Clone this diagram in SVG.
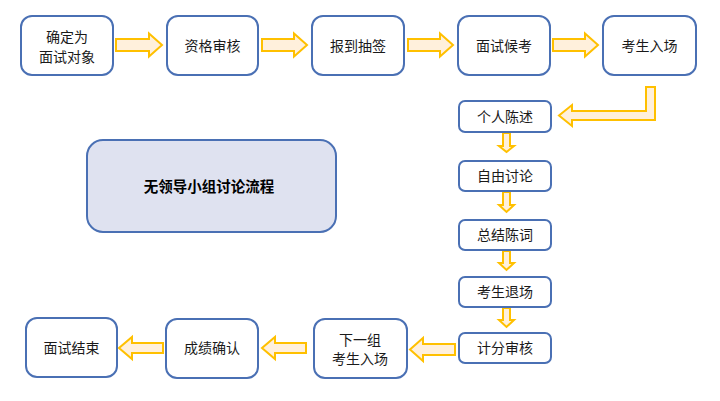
<svg xmlns="http://www.w3.org/2000/svg" width="720" height="401" viewBox="0 0 720 401">
<style>
.box{fill:#ffffff;stroke:#4a70b4;stroke-width:2}
.title{fill:#dfe2f0;stroke:#4a70b4;stroke-width:2}
.arr{fill:#fff0dc;stroke:#ffc000;stroke-width:2;stroke-linejoin:miter}
text{font-family:"Noto Sans CJK SC","Noto Sans",sans-serif;font-size:14px;fill:#1a1a1a;text-anchor:middle}
.b{font-weight:bold;font-size:14.5px;fill:#000}
</style>
<rect width="720" height="401" fill="#ffffff"/>
<g id="connectors">
<path class="arr" d="M116,39 H149 V33.5 L162,45 L149,56.5 V51 H116 Z"/>
<path class="arr" d="M262,39 H294 V33.5 L307,45 L294,56.5 V51 H262 Z"/>
<path class="arr" d="M408,39 H440 V33.5 L453,45 L440,56.5 V51 H408 Z"/>
<path class="arr" d="M553,39 H585 V33.5 L598,45 L585,56.5 V51 H553 Z"/>
<path class="arr" d="M646,87 H655 V120 H572 V126 L559,115.5 L572,105 V111 H646 Z"/>
<path class="arr" d="M503,133 V146 H499 L506.5,152 L514,146 H510 V133 Z"/>
<path class="arr" d="M503,192 V205 H499 L506.5,212 L514,205 H510 V192 Z"/>
<path class="arr" d="M503,251 V263 H499 L506.5,270 L514,263 H510 V251 Z"/>
<path class="arr" d="M503,308 V320 H499 L506.5,327 L514,320 H510 V308 Z"/>
<path class="arr" d="M455,344 H423 V338 L410,349.5 L423,361 V355 H455 Z"/>
<path class="arr" d="M306,343 H275 V337 L262,348 L275,359 V353 H306 Z"/>
<path class="arr" d="M163,343 H132 V337 L119,348 L132,359 V353 H163 Z"/>
</g>
<g id="n1"><rect class="box" x="21" y="16" width="92" height="59" rx="11"/><text x="67" y="42">确定为</text><text x="67" y="62">面试对象</text></g>
<g id="n2"><rect class="box" x="167" y="16" width="91" height="59" rx="11"/><text x="212.5" y="50.5">资格审核</text></g>
<g id="n3"><rect class="box" x="312" y="16" width="92" height="59" rx="11"/><text x="358" y="50.5">报到抽签</text></g>
<g id="n4"><rect class="box" x="458" y="16" width="92" height="59" rx="11"/><text x="504" y="50.5">面试候考</text></g>
<g id="n5"><rect class="box" x="603" y="16" width="93" height="59" rx="11"/><text x="649.5" y="50.5">考生入场</text></g>
<g id="n6"><rect class="box" x="459" y="101" width="92" height="31" rx="6"/><text x="505" y="121.5">个人陈述</text></g>
<g id="n7"><rect class="box" x="459" y="161" width="92" height="30" rx="6"/><text x="505" y="181">自由讨论</text></g>
<g id="n8"><rect class="box" x="459" y="220" width="92" height="30" rx="6"/><text x="505" y="240">总结陈词</text></g>
<g id="n9"><rect class="box" x="459" y="277" width="92" height="30" rx="6"/><text x="505" y="297">考生退场</text></g>
<g id="n10"><rect class="box" x="459" y="333" width="92" height="30" rx="6"/><text x="505" y="353">计分审核</text></g>
<g id="n11"><rect class="box" x="314" y="319" width="93" height="59" rx="11"/><text x="360" y="345">下一组</text><text x="360" y="364">考生入场</text></g>
<g id="n12"><rect class="box" x="166" y="319" width="92" height="59" rx="11"/><text x="212" y="353">成绩确认</text></g>
<g id="n13"><rect class="box" x="26" y="318" width="91" height="59" rx="11"/><text x="71.5" y="352.5">面试结束</text></g>
<g id="title"><rect class="title" x="87" y="140" width="249" height="92" rx="16"/><text class="b" x="209" y="191.5">无领导小组讨论流程</text></g>
</svg>
